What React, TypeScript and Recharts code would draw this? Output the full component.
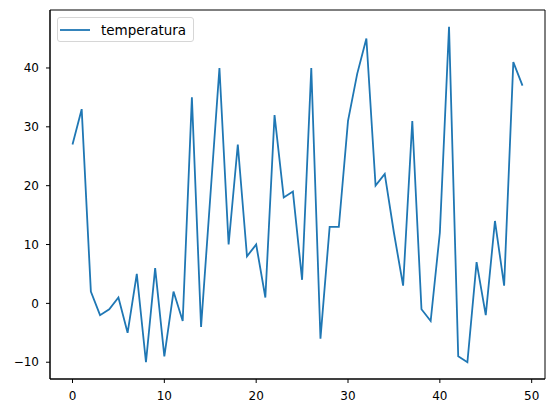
import React from 'react';
import { LineChart, Line, XAxis, YAxis, Legend, ReferenceArea } from 'recharts';

const temperatura = [
  27, 33, 2, -2, -1, 1, -5, 5, -10, 6,
  -9, 2, -3, 35, -4, 18, 40, 10, 27, 8,
  10, 1, 32, 18, 19, 4, 40, -6, 13, 13,
  31, 39, 45, 20, 22, 12, 3, 31, -1, -3,
  12, 47, -9, -10, 7, -2, 14, 3, 41, 37,
];
const xTicks = [0, 10, 20, 30, 40, 50];
const yTicks = [-10, 0, 10, 20, 30, 40];

const data = temperatura.map((v, i) => ({ x: i, temperatura: v }));

const X_DOMAIN: [number, number] = [-2.45, 51.45];
const Y_DOMAIN: [number, number] = [-12.85, 49.85];

const BLUE = '#1f77b4';
const FONT = '"DejaVu Sans", sans-serif';
const tickStyle = { fill: '#000', fontSize: 12, fontFamily: FONT };

// matplotlib uses a real minus sign
const fmt = (v: number) => String(v).replace('-', '\u2212');

const LegendBox = () => (
  <div
    style={{
      width: 135,
      height: 23,
      border: '1px solid #d6d6d6',
      borderRadius: 3,
      background: 'rgba(255,255,255,0.8)',
      display: 'flex',
      alignItems: 'center',
      fontFamily: FONT,
      fontSize: 13.5,
      color: '#000',
      boxSizing: 'content-box',
    }}
  >
    <svg width={30} height={10} style={{ marginLeft: 2, flexShrink: 0 }}>
      <line x1={0} y1={5} x2={30} y2={5} stroke={BLUE} strokeWidth={1.8} />
    </svg>
    <span style={{ marginLeft: 11, whiteSpace: 'nowrap' }}>temperatura</span>
  </div>
);

const App: React.FC = () => {
  return (
    <div style={{ width: 554, height: 413, background: '#fff', position: 'relative' }}>
      <style>{'body{margin:0}'}</style>
      <LineChart
        width={554}
        height={413}
        data={data}
        margin={{ top: 10, right: 9, bottom: 0, left: 0 }}
      >
        <XAxis
          dataKey="x"
          type="number"
          domain={X_DOMAIN}
          ticks={xTicks}
          allowDataOverflow
          height={34}
          tickSize={4}
          tickMargin={8}
          stroke="#000"
          tick={tickStyle}
        />
        <YAxis
          type="number"
          domain={Y_DOMAIN}
          ticks={yTicks}
          tickFormatter={fmt}
          allowDataOverflow
          width={50}
          tickSize={4}
          tickMargin={7}
          stroke="#000"
          tick={tickStyle}
        />
        {/* frame around the plot area */}
        <ReferenceArea
          x1={X_DOMAIN[0]}
          x2={X_DOMAIN[1]}
          y1={Y_DOMAIN[0]}
          y2={Y_DOMAIN[1]}
          fill="none"
          stroke="#000"
          strokeWidth={1}
          fillOpacity={0}
        />
        <Legend
          layout="vertical"
          align="center"
          verticalAlign="middle"
          wrapperStyle={{ top: 17, left: 57, width: 137 }}
          content={() => <LegendBox />}
        />
        <Line
          type="linear"
          dataKey="temperatura"
          stroke={BLUE}
          strokeWidth={1.8}
          dot={false}
          isAnimationActive={false}
        />
      </LineChart>
    </div>
  );
};

export default App;
